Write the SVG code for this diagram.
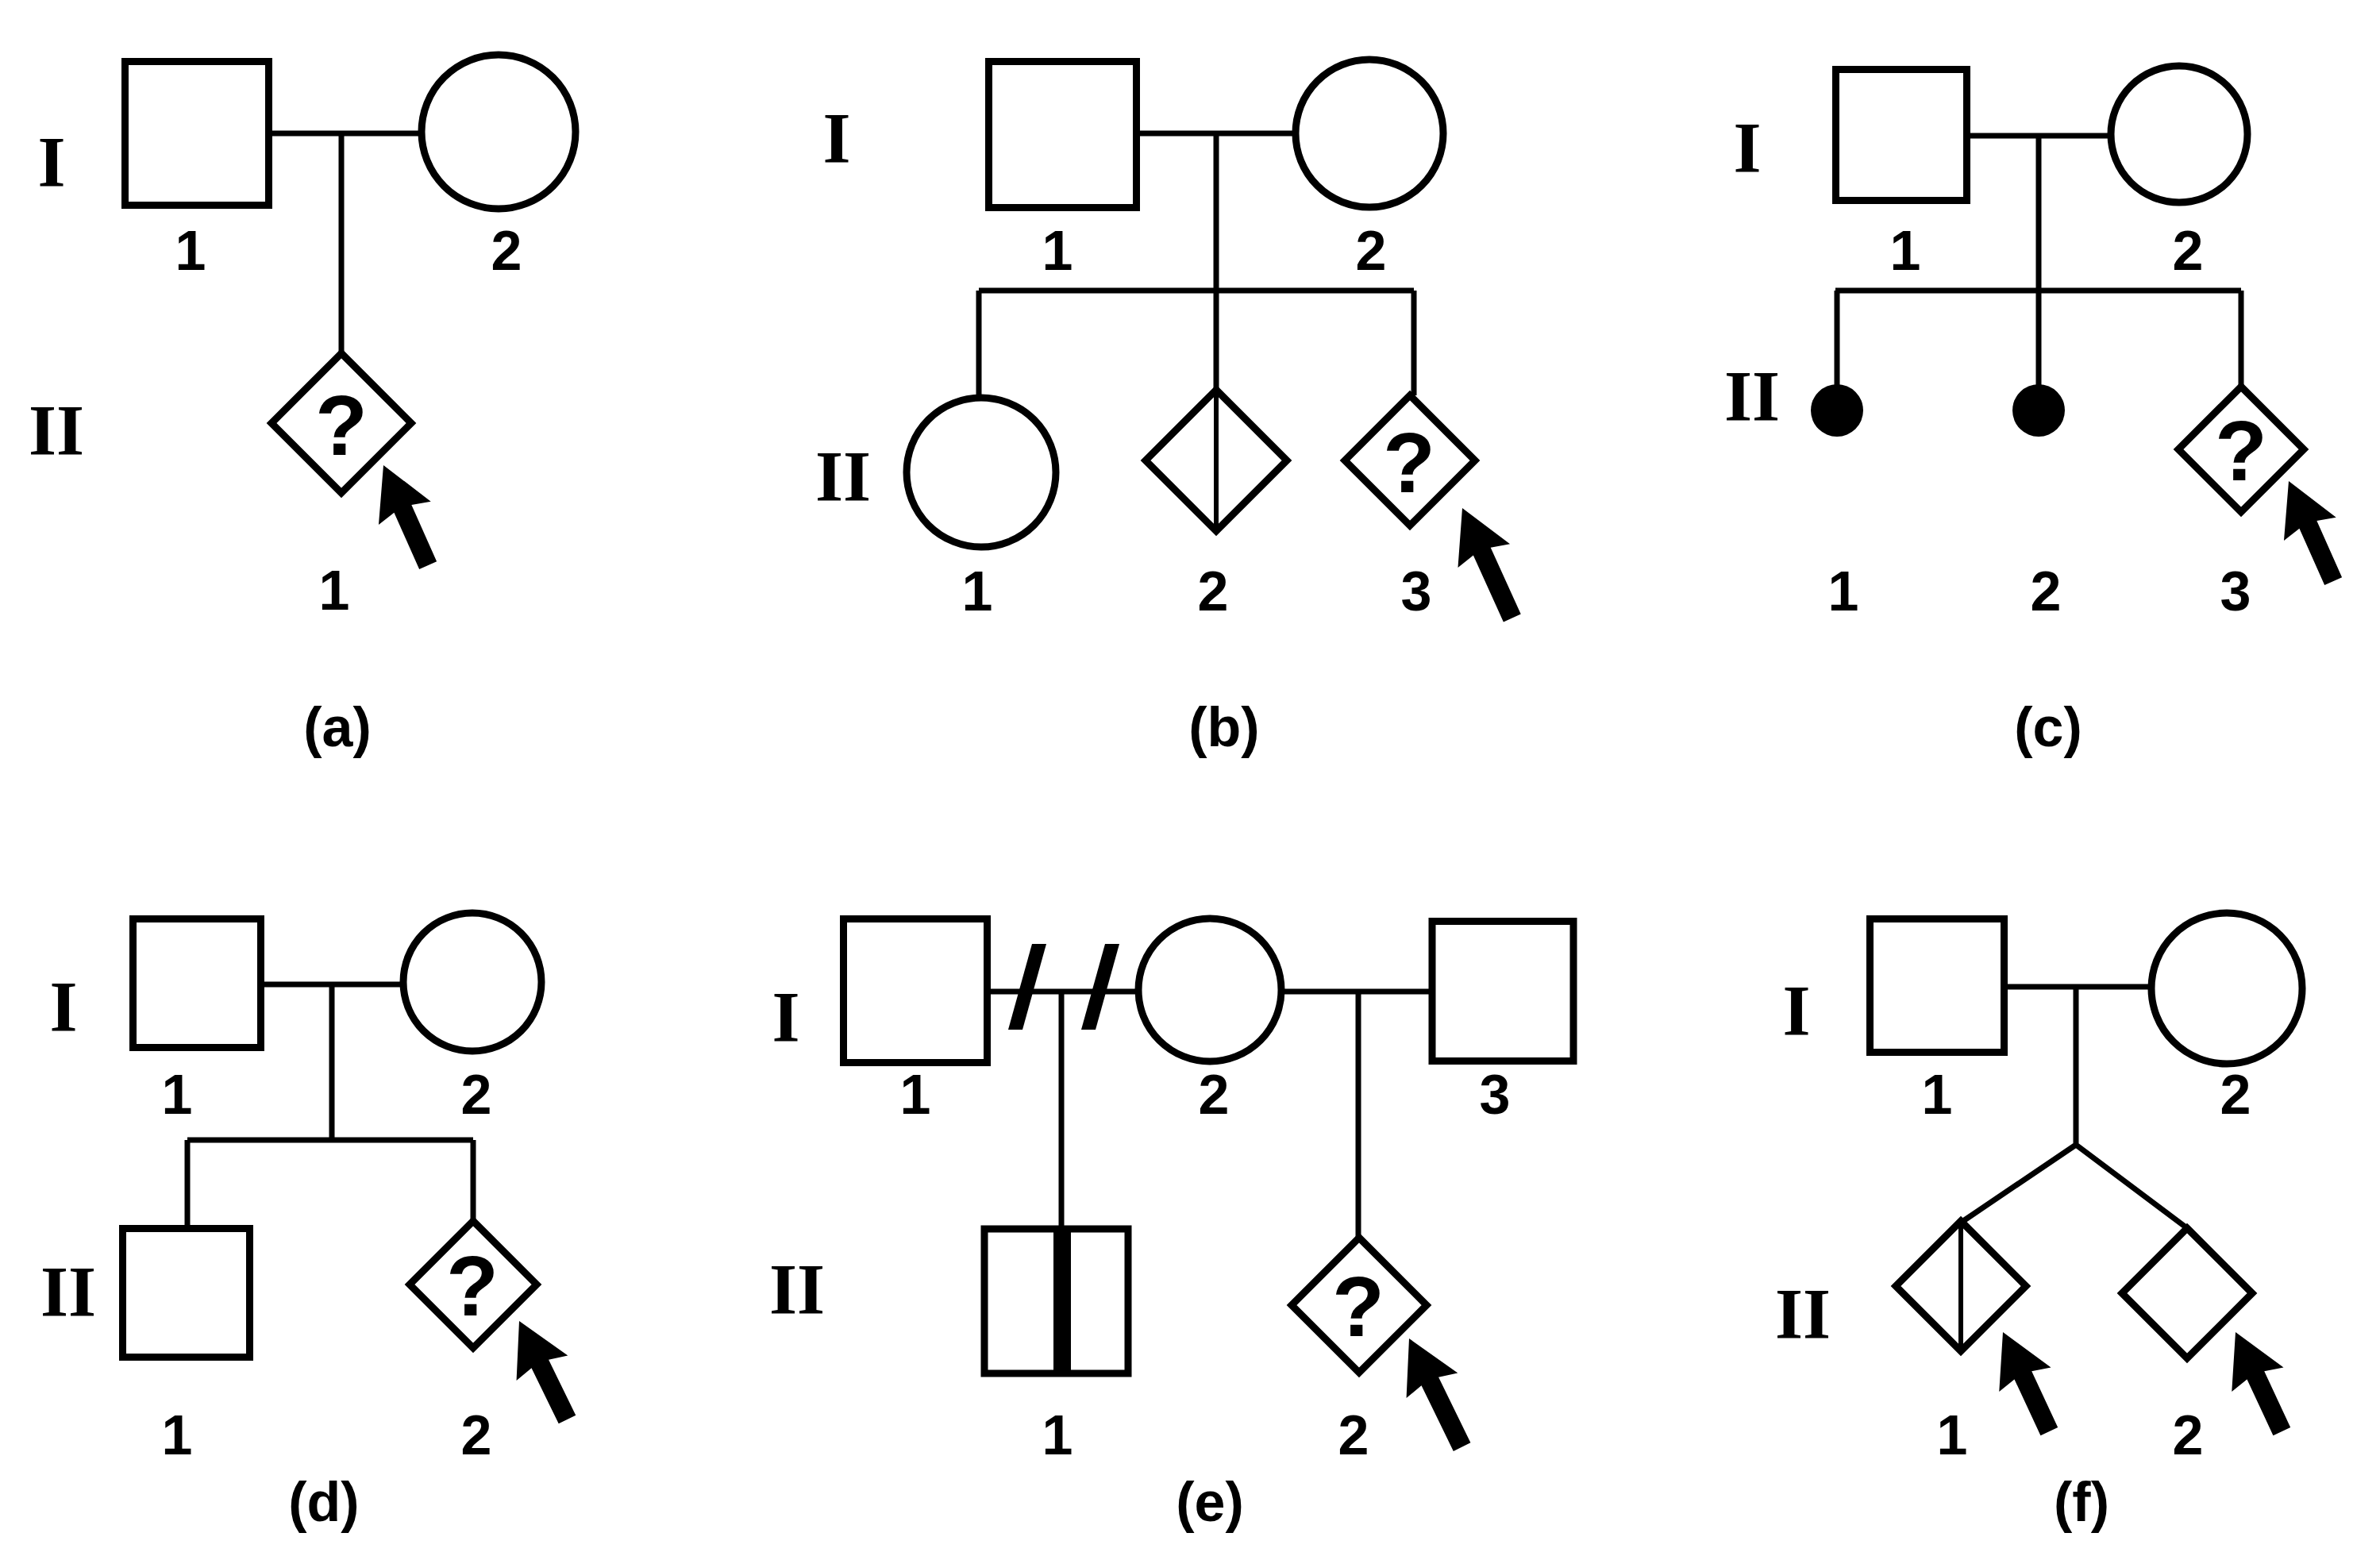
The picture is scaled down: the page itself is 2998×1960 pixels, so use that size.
<svg xmlns="http://www.w3.org/2000/svg" xmlns:xlink="http://www.w3.org/1999/xlink" width="2998" height="1960" viewBox="0 0 2998 1960">
<style>
.s{fill:#fff;stroke:#000;stroke-width:9}
.l{fill:none;stroke:#000;stroke-width:7}
.d{fill:none;stroke:#000;stroke-width:6}
.f{fill:#000;stroke:none}
text{font-family:"Liberation Sans",Arial,sans-serif;font-weight:bold;fill:#000;text-anchor:middle}
.n{font-size:70px}
.q{font-size:108px}
.r{font-family:"Liberation Serif","Times New Roman",serif;font-size:90px}
</style>
<defs>
<path id="arrow" class="f" d="M0,0 L36,66 L12,60 L12,138 L-12,138 L-12,60 L-36,66 Z"/>
<path id="arrowL" class="f" d="M0,0 L36,66 L12,60 L12,152 L-12,152 L-12,60 L-36,66 Z"/>
</defs>
<rect width="2998" height="1960" fill="#fff"/>

<!-- connectors -->
<g id="connectors">
  <!-- (a) -->
  <path class="l" d="M343,168 H530 M430,168 V446"/>
  <!-- (b) -->
  <path class="l" d="M1436,168 H1632 M1532,168 V366 M1233,366 H1781 M1233,366 V500 M1532,366 V491 M1781,366 V498"/>
  <!-- (c) -->
  <path class="l" d="M2482,171 H2659 M2568,171 V366 M2312,366 H2823 M2314,366 V490 M2568,366 V490 M2823,366 V487"/>
  <!-- (d) -->
  <path class="l" d="M333,1240 H508 M418,1240 V1436 M236,1436 H596 M236,1436 V1547 M596,1436 V1538"/>
  <!-- (e) -->
  <path class="l" d="M1248,1249 H1434 M1337,1249 V1548 M1614,1249 H1802 M1711,1249 V1559"/>
  <polygon class="f" points="1270,1297 1288,1297 1318,1189 1300,1189"/>
  <polygon class="f" points="1362,1297 1380,1297 1410,1189 1392,1189"/>
  <!-- (f) -->
  <path class="l" d="M2529,1243 H2709 M2615,1243 V1442 M2615,1442 L2470,1540 M2615,1442 L2755,1547"/>
</g>

<!-- panel (a) -->
<g id="a_I1"><rect class="s" x="157.5" y="77.5" width="181" height="181"/><text class="n" x="240" y="340">1</text></g>
<g id="a_I2"><circle class="s" cx="628" cy="166" r="97"/><text class="n" x="638" y="340">2</text></g>
<g id="a_II1"><path class="s" d="M430,445 L518,533 L430,621 L342,533 Z"/><text class="q" x="430" y="573">?</text><use xlink:href="#arrow" transform="translate(483,586) rotate(-24)"/><text class="n" x="421" y="768">1</text></g>
<g id="a_labels"><text class="r" x="65" y="235">I</text><text class="r" x="71" y="573">II</text><text class="n" x="425" y="940">(a)</text></g>

<!-- panel (b) -->
<g id="b_I1"><rect class="s" x="1245.5" y="77.5" width="186" height="184"/><text class="n" x="1332" y="340">1</text></g>
<g id="b_I2"><circle class="s" cx="1725" cy="168" r="93"/><text class="n" x="1727" y="340">2</text></g>
<g id="b_II1"><circle class="s" cx="1236" cy="595" r="94"/><text class="n" x="1231" y="769">1</text></g>
<g id="b_II2"><path class="s" d="M1532,491 L1621,580 L1532,669 L1443,580 Z"/><path class="d" d="M1532,491 V669"/><text class="n" x="1528" y="769">2</text></g>
<g id="b_II3"><path class="s" d="M1776,498 L1858,580 L1776,662 L1694,580 Z"/><text class="q" x="1775" y="620">?</text><use xlink:href="#arrowL" transform="translate(1842,640) rotate(-24.4)"/><text class="n" x="1784" y="769">3</text></g>
<g id="b_labels"><text class="r" x="1054" y="205">I</text><text class="r" x="1062" y="631">II</text><text class="n" x="1542" y="940">(b)</text></g>

<!-- panel (c) -->
<g id="c_I1"><rect class="s" x="2312.5" y="87.5" width="165" height="165"/><text class="n" x="2400" y="340">1</text></g>
<g id="c_I2"><circle class="s" cx="2745" cy="169" r="86"/><text class="n" x="2756" y="340">2</text></g>
<g id="c_II1"><circle class="f" cx="2314" cy="517" r="33"/><text class="n" x="2322" y="769">1</text></g>
<g id="c_II2"><circle class="f" cx="2568" cy="517" r="33"/><text class="n" x="2577" y="769">2</text></g>
<g id="c_II3"><path class="s" d="M2823,487 L2902,566 L2823,645 L2744,566 Z"/><text class="q" x="2823" y="605">?</text><use xlink:href="#arrow" transform="translate(2883,606) rotate(-24)"/><text class="n" x="2816" y="769">3</text></g>
<g id="c_labels"><text class="r" x="2201" y="217">I</text><text class="r" x="2207" y="530">II</text><text class="n" x="2580" y="940">(c)</text></g>

<!-- panel (d) -->
<g id="d_I1"><rect class="s" x="167.5" y="1157.5" width="161" height="162"/><text class="n" x="223" y="1403">1</text></g>
<g id="d_I2"><circle class="s" cx="595" cy="1237" r="87"/><text class="n" x="600" y="1403">2</text></g>
<g id="d_II1"><rect class="s" x="154.5" y="1547.5" width="160" height="162"/><text class="n" x="223" y="1832">1</text></g>
<g id="d_II2"><path class="s" d="M596,1538 L676,1618 L596,1698 L516,1618 Z"/><text class="q" x="595" y="1657">?</text><use xlink:href="#arrow" transform="translate(654,1664) rotate(-26)"/><text class="n" x="600" y="1832">2</text></g>
<g id="d_labels"><text class="r" x="80" y="1299">I</text><text class="r" x="86" y="1658">II</text><text class="n" x="408" y="1916">(d)</text></g>

<!-- panel (e) -->
<g id="e_I1"><rect class="s" x="1062.5" y="1157.5" width="181" height="181"/><text class="n" x="1153" y="1403">1</text></g>
<g id="e_I2"><circle class="s" cx="1524" cy="1247" r="90"/><text class="n" x="1529" y="1403">2</text></g>
<g id="e_I3"><rect class="s" x="1804" y="1160.5" width="178" height="176"/><text class="n" x="1883" y="1403">3</text></g>
<g id="e_II1"><rect class="s" x="1240" y="1548" width="181" height="182"/><rect class="f" x="1327" y="1548" width="22" height="182"/><text class="n" x="1332" y="1832">1</text></g>
<g id="e_II2"><path class="s" d="M1712,1559 L1797,1644 L1712,1729 L1627,1644 Z"/><text class="q" x="1711" y="1683">?</text><use xlink:href="#arrowL" transform="translate(1775,1686) rotate(-26)"/><text class="n" x="1705" y="1832">2</text></g>
<g id="e_labels"><text class="r" x="990" y="1312">I</text><text class="r" x="1004" y="1655">II</text><text class="n" x="1524" y="1916">(e)</text></g>

<!-- panel (f) -->
<g id="f_I1"><rect class="s" x="2355.5" y="1157.5" width="169" height="168"/><text class="n" x="2440" y="1403">1</text></g>
<g id="f_I2"><circle class="s" cx="2805" cy="1245" r="95"/><text class="n" x="2816" y="1403">2</text></g>
<g id="f_II1"><path class="s" d="M2470,1538 L2552,1620 L2470,1702 L2388,1620 Z"/><path class="d" d="M2470,1538 V1702"/><use xlink:href="#arrow" transform="translate(2523,1678) rotate(-25)"/><text class="n" x="2459" y="1832">1</text></g>
<g id="f_II2"><path class="s" d="M2755,1547 L2837,1629 L2755,1711 L2673,1629 Z"/><use xlink:href="#arrow" transform="translate(2816,1678) rotate(-25)"/><text class="n" x="2756" y="1832">2</text></g>
<g id="f_labels"><text class="r" x="2263" y="1304">I</text><text class="r" x="2271" y="1686">II</text><text class="n" x="2622" y="1916">(f)</text></g>
</svg>
